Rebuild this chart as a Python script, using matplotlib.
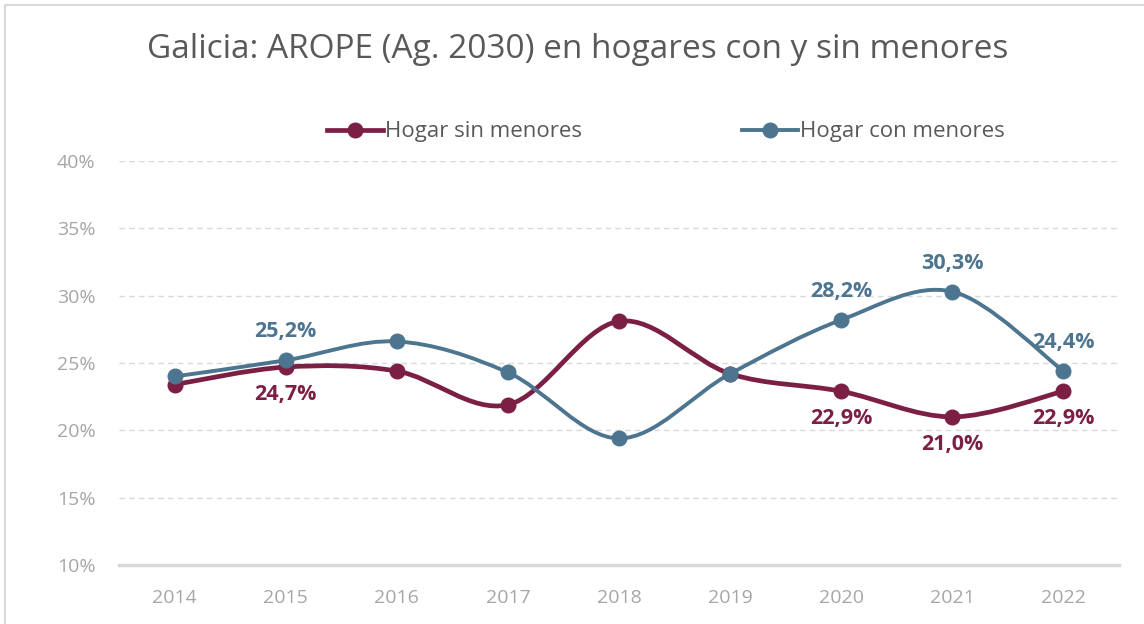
import numpy as np
import matplotlib
matplotlib.use('Agg')
import matplotlib.pyplot as plt
from matplotlib.path import Path
from matplotlib.patches import PathPatch, Rectangle
from matplotlib.lines import Line2D
from matplotlib.ticker import FuncFormatter

plt.rcParams['font.family'] = ['Open Sans', 'DejaVu Sans']

years = ['2014', '2015', '2016', '2017', '2018', '2019', '2020', '2021', '2022']
sin_menores = [23.4, 24.7, 24.4, 21.9, 28.1, 24.2, 22.9, 21.0, 22.9]
con_menores = [24.0, 25.2, 26.6, 24.3, 19.4, 24.2, 28.2, 30.3, 24.4]
labelled = ['2015', '2020', '2021', '2022']

C_SIN = '#7C1F45'
C_CON = '#4D7590'
GRAY = '#A6A6A6'


def smooth_path(x, y):
    # Excel-style smoothed line: cubic Bezier with Catmull-Rom control points
    x = np.asarray(x, float)
    y = np.asarray(y, float)
    n = len(x)
    verts = [(x[0], y[0])]
    codes = [Path.MOVETO]
    for i in range(n - 1):
        i0 = max(i - 1, 0)
        i3 = min(i + 2, n - 1)
        c1 = (x[i] + (x[i + 1] - x[i0]) / 6, y[i] + (y[i + 1] - y[i0]) / 6)
        c2 = (x[i + 1] - (x[i3] - x[i]) / 6, y[i + 1] - (y[i3] - y[i]) / 6)
        verts += [c1, c2, (x[i + 1], y[i + 1])]
        codes += [Path.CURVE4] * 3
    return Path(verts, codes)


fig = plt.figure(figsize=(11.44, 6.24), dpi=100)
ax = fig.add_axes([119 / 1144, 1 - 565 / 624, 1000 / 1144, 404 / 624])

# outer frame of the chart object
fig.patches.append(Rectangle((5 / 1144, -0.05), 1142 / 1144, 1.05 - 5 / 624,
                             transform=fig.transFigure, fill=False,
                             edgecolor='#D9D9D9', linewidth=1.5))

xs = np.arange(len(years))
for vals, col, lw in [(sin_menores, C_SIN, 3.4), (con_menores, C_CON, 2.8)]:
    ax.add_patch(PathPatch(smooth_path(xs, vals), facecolor='none',
                           edgecolor=col, linewidth=lw, capstyle='round',
                           zorder=3))
    ax.plot(xs, vals, linestyle='none', marker='o', markersize=10.5,
            color=col, zorder=4)

for i, yr in enumerate(years):
    if yr in labelled:
        ax.annotate(f'{con_menores[i]:.1f}%'.replace('.', ','), (i, con_menores[i]),
                    xytext=(0, 13), textcoords='offset points', ha='center',
                    va='bottom', fontsize=15.5, fontweight='bold', color=C_CON)
        ax.annotate(f'{sin_menores[i]:.1f}%'.replace('.', ','), (i, sin_menores[i]),
                    xytext=(0, -12), textcoords='offset points', ha='center',
                    va='top', fontsize=15.5, fontweight='bold', color=C_SIN)

ax.set_xlim(-0.5, len(years) - 0.5)
ax.set_ylim(10, 40)
ax.set_yticks(range(10, 41, 5))
ax.yaxis.set_major_formatter(FuncFormatter(lambda v, p: f'{v:.0f}%'))
ax.set_xticks(xs)
ax.set_xticklabels(years)
ax.grid(axis='y', color='#D9D9D9', linestyle=(0, (4, 3)), linewidth=1)
ax.set_axisbelow(True)
for s in ['top', 'right', 'left']:
    ax.spines[s].set_visible(False)
ax.spines['bottom'].set_color('#D9D9D9')
ax.spines['bottom'].set_linewidth(2.5)
ax.tick_params(length=0, colors=GRAY, labelsize=14)
ax.tick_params(axis='y', pad=17)
ax.tick_params(axis='x', pad=17)

fig.text(0.505, 1 - 50 / 624, 'Galicia: AROPE (Ag. 2030) en hogares con y sin menores',
         ha='center', va='center', fontsize=24, color='#595959')

handles = [Line2D([], [], color=C_SIN, linewidth=3.4, marker='o', markersize=10.5),
           Line2D([], [], color=C_CON, linewidth=2.8, marker='o', markersize=10.5)]
fig.legend(handles, ['Hogar sin menores', 'Hogar con menores'], ncol=2,
           loc='center', bbox_to_anchor=(666 / 1144, 1 - 132 / 624),
           frameon=False, fontsize=16, labelcolor='#595959',
           handlelength=2.5, handletextpad=0.1, columnspacing=7.2)

fig.savefig('out.png', dpi=100)
